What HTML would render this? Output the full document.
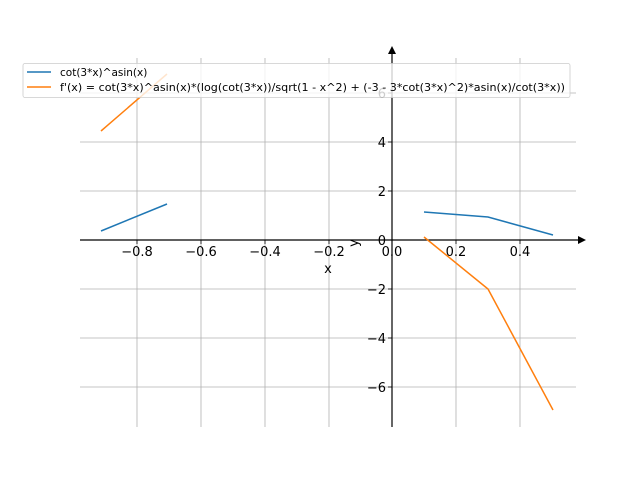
<!DOCTYPE html>
<html><head><meta charset="utf-8"><style>html,body{margin:0;padding:0;background:#fff}</style></head>
<body>
<svg width="640" height="480" viewBox="0 0 640 480" xmlns="http://www.w3.org/2000/svg" font-family="'DejaVu Sans','Liberation Sans',sans-serif">
<rect width="640" height="480" fill="#fff"/>
<g stroke="#b0b0b0" stroke-width="0.8">
<line x1="137" y1="58" x2="137" y2="427"/>
<line x1="201" y1="58" x2="201" y2="427"/>
<line x1="265" y1="58" x2="265" y2="427"/>
<line x1="329" y1="58" x2="329" y2="427"/>
<line x1="456" y1="58" x2="456" y2="427"/>
<line x1="520" y1="58" x2="520" y2="427"/>
<line x1="80" y1="93" x2="576" y2="93"/>
<line x1="80" y1="142" x2="576" y2="142"/>
<line x1="80" y1="191" x2="576" y2="191"/>
<line x1="80" y1="289" x2="576" y2="289"/>
<line x1="80" y1="338" x2="576" y2="338"/>
<line x1="80" y1="387" x2="576" y2="387"/>
</g>
<g stroke="#000" stroke-width="1.2">
<line x1="80" y1="240" x2="580" y2="240"/>
<line x1="392" y1="427" x2="392" y2="52"/>
</g>
<polygon points="586,240 578,236 578,244" fill="#000"/>
<polygon points="392,46 388,54 396,54" fill="#000"/>
<g stroke="#000" stroke-width="0.8">
<line x1="137" y1="240" x2="137" y2="244"/><line x1="201" y1="240" x2="201" y2="244"/>
<line x1="265" y1="240" x2="265" y2="244"/><line x1="329" y1="240" x2="329" y2="244"/>
<line x1="392" y1="240" x2="392" y2="244"/><line x1="456" y1="240" x2="456" y2="244"/>
<line x1="520" y1="240" x2="520" y2="244"/>
<line x1="388" y1="93" x2="392" y2="93"/><line x1="388" y1="142" x2="392" y2="142"/>
<line x1="388" y1="191" x2="392" y2="191"/><line x1="388" y1="240" x2="392" y2="240"/>
<line x1="388" y1="289" x2="392" y2="289"/><line x1="388" y1="338" x2="392" y2="338"/>
<line x1="388" y1="387" x2="392" y2="387"/>
</g>
<g font-size="13" fill="#000" text-anchor="middle">
<text x="137" y="256">−0.8</text><text x="201" y="256">−0.6</text>
<text x="265" y="256">−0.4</text><text x="329" y="256">−0.2</text>
<text x="392" y="256">0.0</text><text x="456" y="256">0.2</text>
<text x="520" y="256">0.4</text>
<text x="328" y="273">x</text>
</g>
<g font-size="13" fill="#000" text-anchor="end">
<text x="386" y="98">6</text><text x="386" y="147">4</text><text x="386" y="196">2</text>
<text x="386" y="245">0</text><text x="386" y="294">−2</text><text x="386" y="343">−4</text>
<text x="386" y="392">−6</text>
</g>
<text x="0" y="0" font-size="13" transform="translate(358,243) rotate(-90)" text-anchor="middle">y</text>
<g fill="none" stroke-width="1.5">
<polyline stroke="#1f77b4" points="101,231 167,204"/>
<polyline stroke="#1f77b4" points="424,212 488,217 553,235"/>
<polyline stroke="#ff7f0e" points="101,131 167,74"/>
<polyline stroke="#ff7f0e" points="424,237 488,289 553,410"/>
</g>
<rect x="23" y="63.5" width="547" height="34" rx="2" fill="#fff" fill-opacity="0.8" stroke="#ccc" stroke-width="0.8"/>
<line x1="27" y1="72" x2="51" y2="72" stroke="#1f77b4" stroke-width="1.5"/>
<line x1="27" y1="87" x2="51" y2="87" stroke="#ff7f0e" stroke-width="1.5"/>
<g font-size="10.5" fill="#000">
<text x="60" y="76">cot(3*x)^asin(x)</text>
<text x="60" y="91" textLength="505" lengthAdjust="spacingAndGlyphs">f'(x) = cot(3*x)^asin(x)*(log(cot(3*x))/sqrt(1 - x^2) + (-3 - 3*cot(3*x)^2)*asin(x)/cot(3*x))</text>
</g>
</svg>
</body></html>
